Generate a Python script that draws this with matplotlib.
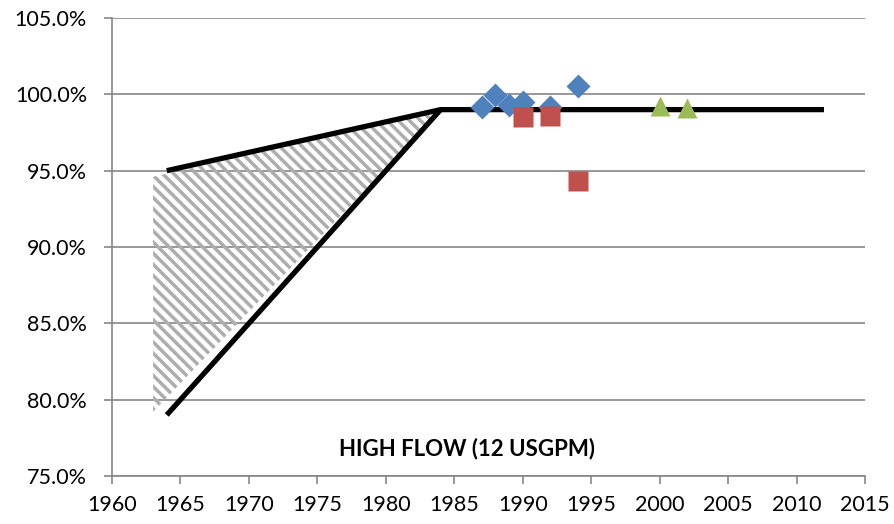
import matplotlib
matplotlib.use("Agg")
import matplotlib.pyplot as plt
from matplotlib.ticker import FuncFormatter

plt.rcParams['font.family'] = ['Lato', 'DejaVu Sans']
plt.rcParams['hatch.color'] = '#adadad'
plt.rcParams['hatch.linewidth'] = 2.5

# envelope lines
upper_x = [1964, 1984, 2012]
upper_y = [95.0, 99.0, 99.0]
lower_x = [1964, 1984]
lower_y = [79.0, 99.0]

# hatched zone
hatch_x = [1963, 1963, 1984]
hatch_y = [79.2, 94.6, 98.9]

# measured points
blue_x = [1987, 1988, 1989, 1990, 1992, 1994]
blue_y = [99.2, 99.95, 99.3, 99.5, 99.15, 100.55]
red_x = [1990, 1992, 1994]
red_y = [98.5, 98.55, 94.3]
green_x = [2000, 2002]
green_y = [99.25, 99.1]

grey = '#868686'

fig = plt.figure(figsize=(8.94, 5.24), dpi=100)
ax = fig.add_axes([0.1253, 0.0916, 0.8423, 0.874])

ax.fill(hatch_x, hatch_y, facecolor='none', edgecolor='#adadad', hatch='\\\\\\', linewidth=0)

ax.plot(upper_x, upper_y, color='black', lw=3.8, solid_capstyle='butt', zorder=3)
ax.plot(lower_x, lower_y, color='black', lw=3.8, solid_capstyle='butt', zorder=3)

ax.plot(blue_x, blue_y, 'D', color='#4f81bd', ms=11.8, mec='none', zorder=4)
ax.plot(red_x, red_y, 's', color='#c0504d', ms=14.4, mec='none', zorder=5)
ax.plot(green_x, green_y, '^', color='#9bbb59', ms=14.5, mec='none', zorder=4)

ax.set_xlim(1960, 2015)
ax.set_ylim(75, 105)
ax.set_xticks(range(1960, 2016, 5))
ax.set_yticks([75, 80, 85, 90, 95, 100, 105])
ax.yaxis.set_major_formatter(FuncFormatter(lambda v, p: '%.1f%%' % v))

ax.grid(axis='y', color=grey, lw=1.2)
ax.set_axisbelow(True)
for s in ['top', 'right']:
    ax.spines[s].set_visible(False)
for s in ['left', 'bottom']:
    ax.spines[s].set_color(grey)
    ax.spines[s].set_linewidth(1.2)
ax.tick_params(axis='both', color=grey, width=1.2, length=6, labelsize=15.5)
ax.tick_params(axis='x', pad=8)
ax.tick_params(axis='y', pad=12)

ax.text(0.471, 0.059, 'HIGH FLOW (12 USGPM)', transform=ax.transAxes,
        ha='center', va='center', fontsize=16, fontweight='bold')

fig.savefig('out.png', dpi=100)
